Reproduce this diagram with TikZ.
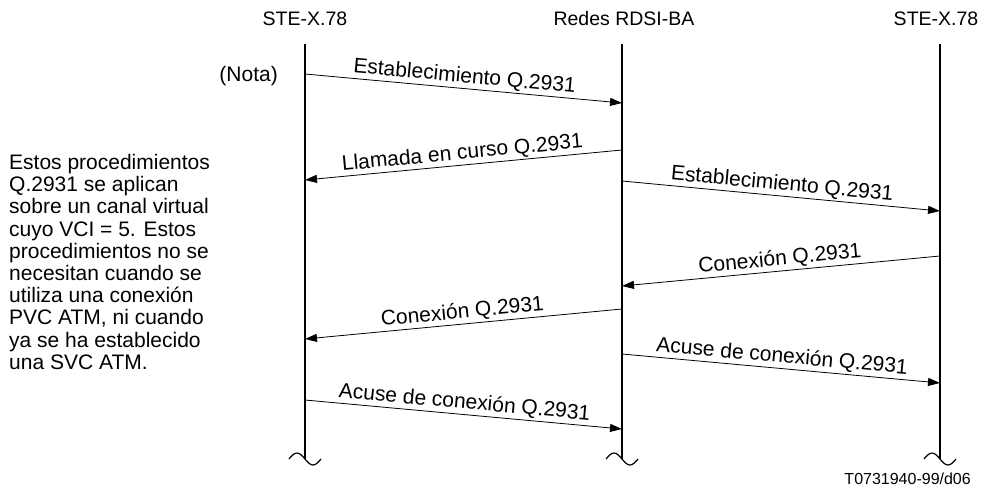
\documentclass[tikz,border=0pt]{standalone}
\usepackage{fontspec}
\setmainfont{Liberation Sans}
\usetikzlibrary{arrows.meta,calc}
\begin{document}
\begin{tikzpicture}[x=1pt,y=-1pt,
  life/.style={line width=1.8pt},
  msg/.style={line width=0.8pt,-{Triangle[length=12pt,width=8pt]}},
  lbl/.style={midway,sloped,above,inner sep=1.5pt,font=\fontsize{21}{23}\selectfont},
  hdr/.style={font=\fontsize{19.5}{22}\selectfont,inner sep=0pt},
  squig/.style={line width=1.2pt},
]
\useasboundingbox (0,0) rectangle (987,490);
% headers
\node[hdr] (h1) at (305,19) {STE-X.78};
\node[hdr] (h2) at (624,19) {Redes RDSI-BA};
\node[hdr] (h3) at (936,19) {STE-X.78};
% lifelines
\coordinate (t1) at (305,44); \coordinate (b1) at (305,459);
\coordinate (t2) at (622,44); \coordinate (b2) at (622,459);
\coordinate (t3) at (940,44); \coordinate (b3) at (940,459);
\draw[life] (t1) -- (b1);
\draw[life] (t2) -- (b2);
\draw[life] (t3) -- (b3);
\foreach \c in {b1,b2,b3}{
  \draw[squig] ($(\c)+(-16,0)$) sin ($(\c)+(-8,-6)$) cos (\c) sin ($(\c)+(8,6)$) cos ($(\c)+(16,0)$);
}
% message endpoints
\coordinate (m1s) at (305,74);  \coordinate (m1e) at (622,103);
\coordinate (m2s) at (622,150); \coordinate (m2e) at (305,180);
\coordinate (m3s) at (622,181); \coordinate (m3e) at (940,211);
\coordinate (m4s) at (940,256); \coordinate (m4e) at (622,286);
\coordinate (m5s) at (622,309); \coordinate (m5e) at (305,339);
\coordinate (m6s) at (622,354); \coordinate (m6e) at (940,383);
\coordinate (m7s) at (305,400); \coordinate (m7e) at (622,429);
\draw[msg] (m1s) -- node[lbl] {Establecimiento Q.2931} (m1e);
\draw[msg] (m2s) -- node[lbl] {Llamada en curso Q.2931} (m2e);
\draw[msg] (m3s) -- node[lbl] {Establecimiento Q.2931} (m3e);
\draw[msg] (m4s) -- node[lbl] {Conexión Q.2931} (m4e);
\draw[msg] (m5s) -- node[lbl] {Conexión Q.2931} (m5e);
\draw[msg] (m6s) -- node[lbl] {Acuse de conexión Q.2931} (m6e);
\draw[msg] (m7s) -- node[lbl] {Acuse de conexión Q.2931} (m7e);
% notes
\node[hdr,anchor=east,font=\fontsize{21}{23}\selectfont] (nota) at (278,76) {(Nota)};
\node[anchor=north west,inner sep=0pt,align=left,font=\fontsize{21}{22.2}\selectfont] (note) at (9,154)
 {Estos procedimientos\\Q.2931 se aplican\\sobre un canal virtual\\cuyo VCI = 5. Estos\\procedimientos no se\\necesitan cuando se\\utiliza una conexión\\PVC ATM, ni cuando\\ya se ha establecido\\una SVC ATM.};
\node[anchor=east,inner sep=0pt,font=\fontsize{16}{18}\selectfont] (ref) at (971,479) {T0731940-99/d06};
\end{tikzpicture}
\end{document}
